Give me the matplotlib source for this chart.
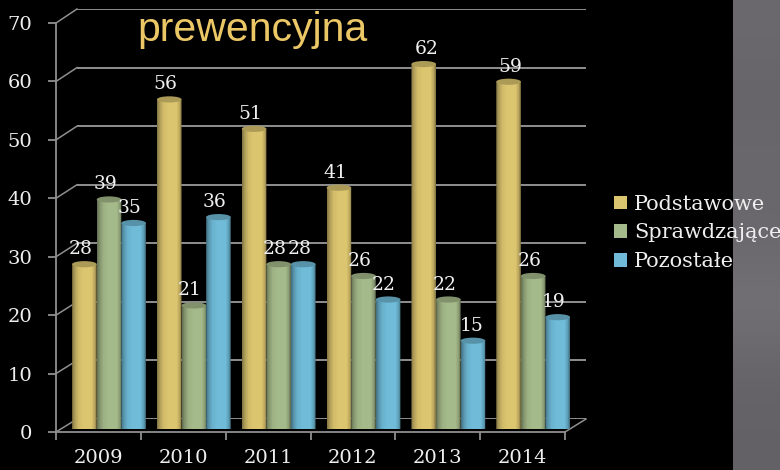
import matplotlib
matplotlib.use("Agg")
import matplotlib.pyplot as plt
import numpy as np
from matplotlib.patches import Ellipse, PathPatch, Rectangle
from matplotlib.path import Path

years = ["2009", "2010", "2011", "2012", "2013", "2014"]
podstawowe = [28, 56, 51, 41, 62, 59]
sprawdzajace = [39, 21, 28, 26, 22, 26]
pozostale = [35, 36, 28, 22, 15, 19]
names = ["Podstawowe", "Sprawdzające", "Pozostałe"]
colors = ["#dcc56f", "#a5ba8a", "#6fbbd8"]
yticks = [0, 10, 20, 30, 40, 50, 60, 70]

W, H = 780, 470
grid_c = "#8f8f8f"
text_c = "#efefef"
font = "DejaVu Serif"


def px_axes(fig, left, top, right, bottom):
    # axes given in picture pixels, y measured from the top
    a = fig.add_axes([left / W, 1 - bottom / H, (right - left) / W, (bottom - top) / H])
    a.set_xlim(0, 6)
    a.set_ylim(0, 70)
    a.patch.set_alpha(0)
    return a


def shade(hex_c):
    c = np.array(matplotlib.colors.to_rgb(hex_c))
    t = np.array([0, 0.1, 0.25, 0.45, 0.8, 0.92, 1])
    k = np.array([0.62, 0.8, 0.95, 1.0, 1.0, 0.85, 0.62])
    xs = np.linspace(0, 1, 25)
    f = np.interp(xs, t, k)
    return np.clip(f[None, :, None] * c[None, None, :], 0, 1)


fig = plt.figure(figsize=(W / 100, H / 100), dpi=100, facecolor="black")

# grey side panel of the slide
bg = fig.add_axes([0, 0, 1, 1])
bg.set_xlim(0, W)
bg.set_ylim(H, 0)
bg.axis("off")
panel = np.array([0.42, 0.40, 0.42, 0.41, 0.46, 0.40, 0.39])[:, None, None] * np.array([1.0, 0.98, 1.02])
bg.imshow(panel, extent=(733, W, H, 0), aspect="auto", interpolation="bicubic")
bg.set_xlim(0, W)
bg.set_ylim(H, 0)

# back wall gridlines
back = px_axes(fig, 77, 9, 586, 419)
back.axis("off")
back.hlines(yticks, 0, 6, color=grid_c, lw=1.4)

# front frame with ticks
ax = px_axes(fig, 56, 23, 565, 432)
for s in ["top", "right"]:
    ax.spines[s].set_visible(False)
for s in ["left", "bottom"]:
    ax.spines[s].set_color(grid_c)
    ax.spines[s].set_linewidth(1.3)
ax.set_yticks(yticks)
ax.set_xticks(range(7))
ax.set_xticklabels([])
ax.tick_params(colors=grid_c, length=6, width=1.3)
ax.tick_params(axis="y", labelcolor=text_c, labelsize=14, pad=11)
for lab in ax.get_yticklabels():
    lab.set_family(font)
for i, y in enumerate(years):
    ax.annotate(y, (i + 0.5, 0), xytext=(0, -26), textcoords="offset pixels", ha="center",
                va="center", color=text_c, fontsize=14, family=font, annotation_clip=False)

# depth connectors between front axis and back wall
for v in yticks:
    fx, fy = ax.transData.transform((0, v))
    bx, by = back.transData.transform((0, v))
    bg.plot([fx, bx], [H - fy, H - by], color=grid_c, lw=1.1)
fx, fy = ax.transData.transform((6, 0))
bx, by = back.transData.transform((6, 0))
bg.plot([fx, bx], [H - fy, H - by], color=grid_c, lw=1.1)

# cylinders
bars = px_axes(fig, 66.6, 17, 575.6, 429)
bars.axis("off")
bw = 0.29
cap = 1.05
label_dx = {(4, 0): 3, (5, 0): 2, (4, 2): -1}
for s, (vals, c) in enumerate(zip([podstawowe, sprawdzajace, pozostale], colors)):
    for i, v in enumerate(vals):
        x0 = i + 0.5 + (s - 1.5) * bw
        x1 = x0 + bw
        xm = (x0 + x1) / 2
        # body with rounded foot
        tt = np.linspace(np.pi, 2 * np.pi, 20)
        foot = np.column_stack([xm + bw / 2 * np.cos(tt), cap / 2 * np.sin(tt)])
        verts = np.vstack([[[x0, v]], foot, [[x1, v]], [[x0, v]]])
        clip = PathPatch(Path(verts), transform=bars.transData, fc="none", ec="none")
        bars.add_patch(clip)
        im = bars.imshow(shade(c), extent=(x0, x1, -cap, v), aspect="auto", zorder=2 + s * 0.1,
                         interpolation="nearest")
        im.set_clip_path(clip)
        dark = np.array(matplotlib.colors.to_rgb(c)) * 0.78
        bars.add_patch(Ellipse((xm, v), bw, cap, fc=dark, ec="none", zorder=2.05 + s * 0.1))
        bars.annotate(str(v), (xm, v), xytext=(label_dx.get((i, s), -4), 15), textcoords="offset pixels",
                      ha="center", va="center", color=text_c, fontsize=13.5, family=font, zorder=5,
                      annotation_clip=False)
bars.set_xlim(0, 6)
bars.set_ylim(0, 70)

fig.text(252 / W, 1 - 30 / H, "prewencyjna", color="#ecc766", fontsize=29.5,
         family="Liberation Sans", ha="center", va="center")

# legend
handles = [Rectangle((0, 0), 1, 1, fc=c, ec="none") for c in colors]
fig.legend(handles, names, loc="center left", bbox_to_anchor=(614 / W, 1 - 233 / H), frameon=False,
           prop={"family": font, "size": 15}, labelcolor=text_c, handlelength=0.62, handleheight=0.62,
           handletextpad=0.33, labelspacing=0.47, borderpad=0, borderaxespad=0)

fig.savefig("out.png", dpi=100, facecolor="black")
